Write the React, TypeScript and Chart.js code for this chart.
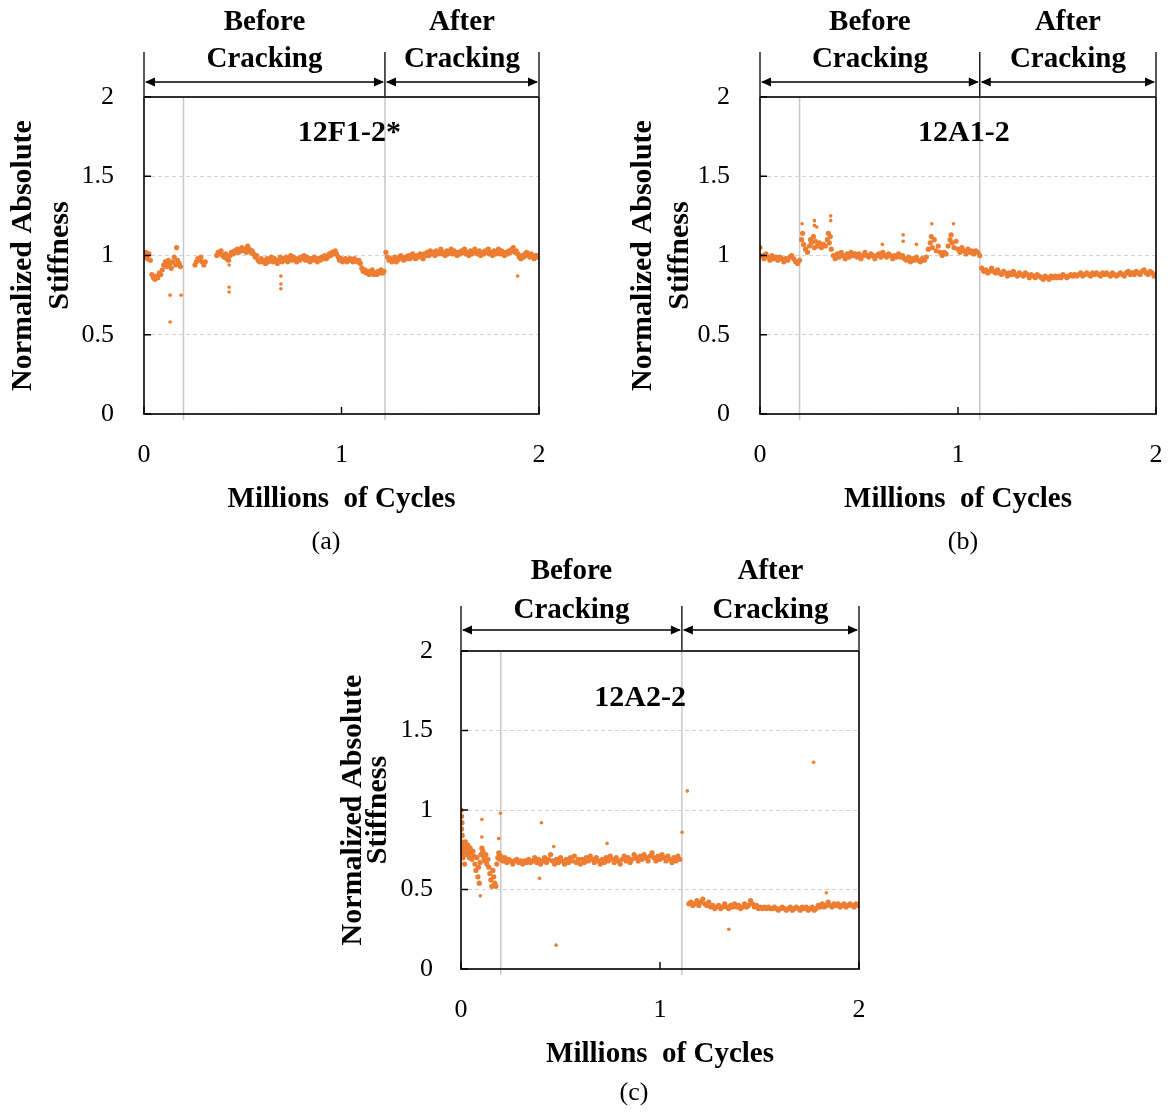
import React, { useEffect, useRef } from "react";
import { Chart, registerables } from "chart.js";

Chart.register(...registerables);

const SERIF = "'Liberation Serif', 'Times New Roman', serif";
const ORANGE = "#ED7D31";

type Pt = [number, number];

// ---------------- DATA ----------------
const panelTitles = ["12F1-2*", "12A1-2", "12A2-2"];
const panelLabels = ["(a)", "(b)", "(c)"];
const xTickValues = [0, 1, 2];
const yTickValues = [0, 0.5, 1, 1.5, 2];
const xAxisTitle = "Millions  of Cycles";
const yAxisTitle = ["Normalized Absolute", "Stiffness"];
const phaseLabels = [["Before", "Cracking"], ["After", "Cracking"]];
const referenceCycle = 0.2;
const crackCycles = [1.22, 1.11, 1.11];

// (a) 12F1-2*  [millions of cycles, normalized stiffness]
const panelA_band: Pt[] = [
  [0.000,0.99],[0.010,1.02],[0.018,0.98],[0.025,1.01],[0.032,0.97],[0.040,0.88],[0.048,0.86],[0.055,0.85],
  [0.063,0.87],[0.070,0.86],[0.078,0.89],[0.085,0.88],[0.093,0.91],[0.100,0.94],[0.108,0.96],[0.115,0.93],
  [0.123,0.97],[0.130,0.95],[0.138,0.92],[0.145,0.96],[0.153,0.99],[0.160,0.94],[0.165,1.05],[0.170,0.97],
  [0.178,0.95],[0.185,0.93],
  [0.258,0.94],[0.265,0.96],[0.273,0.98],[0.280,0.97],[0.288,0.99],[0.295,0.96],[0.303,0.94],[0.310,0.96],
  [0.368,1.00],[0.375,1.02],[0.383,1.01],[0.390,1.03],[0.398,1.00],[0.405,0.99],[0.413,1.01],[0.420,0.98],
  [0.428,0.97],[0.435,1.00],[0.443,1.02],[0.450,1.01],[0.458,1.03],[0.465,1.02],[0.473,1.04],[0.480,1.02],
  [0.488,1.03],[0.495,1.05],[0.503,1.03],[0.510,1.04],[0.518,1.02],[0.525,1.06],[0.533,1.04],[0.540,1.02],
  [0.548,1.03],[0.555,1.01],[0.563,0.99],[0.570,1.00],[0.578,0.97],[0.585,0.96],[0.593,0.98],[0.600,0.96],
  [0.608,0.97],[0.615,0.95],[0.623,0.98],[0.630,0.96],[0.638,0.97],[0.645,0.99],[0.653,0.96],[0.660,0.98],
  [0.668,0.97],[0.675,0.95],[0.683,0.97],[0.690,0.99],[0.698,0.96],[0.705,0.98],[0.713,0.97],[0.720,0.99],
  [0.728,0.96],[0.735,0.98],[0.743,1.00],[0.750,0.97],[0.758,0.99],[0.765,0.98],[0.773,0.96],[0.780,0.98],
  [0.788,0.97],[0.795,0.99],[0.803,0.98],[0.810,1.00],[0.818,0.97],[0.825,0.99],[0.833,0.98],[0.840,0.96],
  [0.848,0.98],[0.855,0.97],[0.863,0.99],[0.870,0.98],[0.878,0.96],[0.885,0.98],[0.893,0.97],[0.900,0.99],
  [0.908,0.98],[0.915,1.00],[0.923,0.98],[0.930,0.99],[0.938,1.01],[0.945,1.00],[0.953,1.02],[0.960,1.01],
  [0.968,1.03],[0.975,1.01],[0.983,0.99],[0.990,0.97],[0.998,0.98],[1.005,0.96],[1.013,0.97],[1.020,0.98],
  [1.028,0.96],[1.035,0.97],[1.043,0.98],[1.050,0.97],[1.058,0.96],[1.065,0.98],[1.073,0.97],[1.080,0.96],
  [1.088,0.97],[1.095,0.95],[1.103,0.92],[1.110,0.90],[1.118,0.91],[1.125,0.89],[1.133,0.90],[1.140,0.88],
  [1.148,0.89],[1.155,0.91],[1.163,0.88],[1.170,0.89],[1.178,0.88],[1.185,0.90],[1.193,0.89],[1.200,0.91],
  [1.208,0.89],[1.215,0.90],[1.225,1.02],[1.233,0.99],[1.240,0.97],[1.248,0.98],[1.255,0.96],[1.263,0.97],
  [1.270,0.99],[1.278,0.96],[1.285,0.97],[1.293,0.99],[1.300,1.00],[1.308,0.98],[1.315,0.97],[1.323,0.99],
  [1.330,0.98],[1.338,1.00],[1.345,0.98],[1.353,0.99],[1.360,1.01],[1.368,0.99],[1.375,0.98],[1.383,1.00],
  [1.390,0.99],[1.398,1.01],[1.405,1.00],[1.413,0.98],[1.420,1.01],[1.428,1.00],[1.435,1.02],[1.443,1.00],
  [1.450,1.03],[1.458,1.01],[1.465,1.02],[1.473,1.00],[1.480,1.03],[1.488,1.01],[1.495,1.02],[1.503,1.04],
  [1.510,1.01],[1.518,1.02],[1.525,1.00],[1.533,1.03],[1.540,1.01],[1.548,1.02],[1.555,1.04],[1.563,1.01],
  [1.570,1.03],[1.578,1.02],[1.585,1.00],[1.593,1.02],[1.600,1.01],[1.608,1.03],[1.615,1.02],[1.623,1.04],
  [1.630,1.01],[1.638,1.02],[1.645,1.00],[1.653,1.03],[1.660,1.01],[1.668,1.02],[1.675,1.04],[1.683,1.02],
  [1.690,1.01],[1.698,1.03],[1.705,1.00],[1.713,1.02],[1.720,1.01],[1.728,1.03],[1.735,1.02],[1.743,1.04],
  [1.750,1.01],[1.758,1.02],[1.765,1.00],[1.773,1.03],[1.780,1.01],[1.788,1.02],[1.795,1.04],[1.803,1.01],
  [1.810,1.03],[1.818,1.02],[1.825,1.00],[1.833,1.02],[1.840,1.01],[1.848,1.03],[1.855,1.02],[1.863,1.04],
  [1.870,1.05],[1.878,1.02],[1.885,1.03],[1.893,1.01],[1.900,0.99],[1.908,0.98],[1.915,1.00],[1.923,0.99],
  [1.930,1.01],[1.938,1.02],[1.945,1.00],[1.953,0.99],[1.960,1.01],[1.968,1.00],[1.975,0.98],[1.983,1.00],
  [1.990,0.99],[1.998,1.00],
];
const panelA_outliers: Pt[] = [
  [0.000,0.00],[0.132,0.75],[0.132,0.58],[0.188,0.75],[0.431,0.94],[0.431,0.80],[0.431,0.77],
  [0.693,0.87],[0.693,0.82],[0.693,0.79],[1.892,0.87],
];

// (b) 12A1-2
const panelB_band: Pt[] = [
  [0.000,1.05],[0.010,1.00],[0.020,0.98],[0.030,1.01],[0.040,0.99],[0.050,0.97],[0.060,1.00],[0.070,0.98],
  [0.080,0.99],[0.090,0.97],[0.100,0.99],[0.110,0.98],[0.120,0.96],[0.130,0.98],[0.140,0.97],[0.150,0.99],
  [0.160,1.00],[0.170,0.98],[0.180,0.96],[0.190,0.95],[0.200,0.97],[0.210,1.10],[0.215,1.14],[0.220,1.07],
  [0.230,1.04],[0.240,1.02],[0.250,1.06],[0.255,1.10],[0.260,1.08],[0.270,1.12],[0.275,1.05],[0.280,1.09],
  [0.290,1.06],[0.300,1.08],[0.310,1.05],[0.320,1.07],[0.330,1.06],[0.340,1.10],[0.345,1.14],[0.350,1.08],
  [0.355,1.12],[0.360,1.04],[0.370,1.00],[0.380,0.98],[0.390,1.01],[0.400,0.99],[0.410,1.02],[0.420,1.00],
  [0.430,0.98],[0.440,1.01],[0.450,0.99],[0.460,1.02],[0.470,1.00],[0.480,1.01],[0.490,0.99],[0.500,1.01],
  [0.510,0.98],[0.520,1.00],[0.530,1.02],[0.540,1.00],[0.550,0.99],[0.560,1.01],[0.570,1.00],[0.580,0.98],
  [0.590,1.00],[0.600,1.01],[0.610,0.99],[0.620,1.02],[0.630,1.00],[0.640,0.99],[0.650,1.01],[0.660,1.00],
  [0.670,0.98],[0.680,1.00],[0.690,0.99],[0.700,1.01],[0.710,0.99],[0.720,1.00],[0.730,0.98],[0.740,0.97],
  [0.750,0.99],[0.760,0.96],[0.770,0.98],[0.780,0.97],[0.790,0.99],[0.800,0.97],[0.810,0.96],[0.820,0.98],
  [0.830,0.97],[0.840,0.99],[0.850,1.04],[0.860,1.08],[0.865,1.12],[0.870,1.05],[0.880,1.10],[0.890,1.03],
  [0.900,1.06],[0.910,1.02],[0.920,1.00],[0.930,1.02],[0.940,1.01],[0.950,1.06],[0.960,1.10],[0.965,1.13],
  [0.970,1.08],[0.980,1.05],[0.990,1.09],[1.000,1.04],[1.010,1.02],[1.020,1.05],[1.030,1.03],[1.040,1.01],
  [1.050,1.04],[1.060,1.02],[1.070,1.03],[1.080,1.01],[1.090,1.03],[1.100,1.02],[1.110,1.00],[1.120,0.92],
  [1.130,0.90],[1.140,0.91],[1.150,0.89],[1.160,0.90],[1.170,0.92],[1.180,0.90],[1.190,0.89],[1.200,0.91],
  [1.210,0.89],[1.220,0.88],[1.230,0.90],[1.240,0.89],[1.250,0.87],[1.260,0.89],[1.270,0.88],[1.280,0.90],
  [1.290,0.88],[1.300,0.87],[1.310,0.89],[1.320,0.88],[1.330,0.87],[1.340,0.89],[1.350,0.88],[1.360,0.86],
  [1.370,0.88],[1.380,0.87],[1.390,0.86],[1.400,0.88],[1.410,0.87],[1.420,0.86],[1.430,0.85],[1.440,0.87],
  [1.450,0.86],[1.460,0.85],[1.470,0.87],[1.480,0.86],[1.490,0.87],[1.500,0.86],[1.510,0.87],[1.520,0.86],
  [1.530,0.88],[1.540,0.87],[1.550,0.86],[1.560,0.87],[1.570,0.88],[1.580,0.87],[1.590,0.88],[1.600,0.87],
  [1.610,0.88],[1.620,0.89],[1.630,0.87],[1.640,0.88],[1.650,0.89],[1.660,0.88],[1.670,0.87],[1.680,0.89],
  [1.690,0.88],[1.700,0.89],[1.710,0.88],[1.720,0.87],[1.730,0.89],[1.740,0.88],[1.750,0.89],[1.760,0.88],
  [1.770,0.87],[1.780,0.89],[1.790,0.88],[1.800,0.87],[1.810,0.88],[1.820,0.89],[1.830,0.88],[1.840,0.87],
  [1.850,0.89],[1.860,0.90],[1.870,0.88],[1.880,0.89],[1.890,0.88],[1.900,0.90],[1.910,0.89],[1.920,0.88],
  [1.930,0.90],[1.940,0.91],[1.950,0.89],[1.960,0.88],[1.970,0.90],[1.980,0.89],[1.990,0.87],[2.000,0.88],
];
const panelB_outliers: Pt[] = [
  [0.213,1.20],[0.275,1.22],[0.275,1.19],[0.287,1.18],[0.357,1.25],[0.357,1.22],[0.618,1.07],
  [0.723,1.13],[0.723,1.09],[0.790,1.07],[0.868,1.20],[0.977,1.20],
];

// (c) 12A2-2
const panelC_band: Pt[] = [
  [0.000,1.00],[0.003,0.96],[0.005,0.92],[0.003,0.88],[0.006,0.84],[0.004,0.80],[0.008,0.76],[0.006,0.72],
  [0.010,0.70],[0.012,0.78],[0.015,0.74],[0.018,0.66],[0.022,0.80],[0.026,0.76],[0.030,0.72],[0.034,0.78],
  [0.038,0.74],[0.042,0.70],[0.046,0.76],[0.050,0.73],[0.055,0.69],[0.060,0.74],[0.065,0.71],[0.070,0.66],
  [0.075,0.62],[0.080,0.70],[0.085,0.58],[0.088,0.64],[0.092,0.54],[0.096,0.67],[0.100,0.72],[0.105,0.76],
  [0.110,0.74],[0.115,0.70],[0.120,0.68],[0.125,0.72],[0.130,0.66],[0.135,0.69],[0.140,0.64],[0.145,0.60],
  [0.150,0.56],[0.155,0.52],[0.160,0.62],[0.165,0.58],[0.170,0.54],[0.175,0.52],[0.180,0.66],[0.185,0.70],
  [0.190,0.73],[0.195,0.69],[0.200,0.71],
  [0.210,0.68],[0.220,0.70],[0.230,0.67],[0.240,0.69],[0.250,0.68],[0.260,0.66],[0.270,0.68],[0.280,0.69],
  [0.290,0.67],[0.300,0.68],[0.310,0.66],[0.320,0.68],[0.330,0.67],[0.340,0.69],[0.350,0.67],[0.360,0.68],
  [0.370,0.70],[0.380,0.67],[0.390,0.69],[0.400,0.66],[0.410,0.68],[0.420,0.70],[0.430,0.67],[0.440,0.69],
  [0.450,0.72],[0.460,0.68],[0.470,0.66],[0.480,0.69],[0.490,0.67],[0.500,0.70],[0.510,0.68],[0.520,0.66],
  [0.530,0.69],[0.540,0.67],[0.550,0.70],[0.560,0.68],[0.570,0.71],[0.580,0.67],[0.590,0.69],[0.600,0.66],
  [0.610,0.69],[0.620,0.67],[0.630,0.70],[0.640,0.68],[0.650,0.71],[0.660,0.69],[0.670,0.67],[0.680,0.70],
  [0.690,0.68],[0.700,0.66],[0.710,0.69],[0.720,0.67],[0.730,0.70],[0.740,0.68],[0.750,0.71],[0.760,0.69],
  [0.770,0.67],[0.780,0.70],[0.790,0.68],[0.800,0.66],[0.810,0.69],[0.820,0.71],[0.830,0.68],[0.840,0.70],
  [0.850,0.67],[0.860,0.69],[0.870,0.72],[0.880,0.70],[0.890,0.68],[0.900,0.71],[0.910,0.69],[0.920,0.72],
  [0.930,0.70],[0.940,0.68],[0.950,0.71],[0.960,0.73],[0.970,0.70],[0.980,0.68],[0.990,0.71],[1.000,0.69],
  [1.010,0.72],[1.020,0.70],[1.030,0.68],[1.040,0.71],[1.050,0.69],[1.060,0.67],[1.070,0.70],[1.080,0.68],
  [1.090,0.71],[1.100,0.69],
  [1.145,0.41],[1.155,0.42],[1.165,0.40],[1.175,0.41],[1.185,0.43],[1.195,0.40],[1.205,0.42],[1.215,0.44],
  [1.225,0.41],[1.235,0.40],[1.245,0.42],[1.255,0.39],[1.265,0.40],[1.275,0.38],[1.285,0.39],[1.295,0.40],
  [1.305,0.38],[1.315,0.39],[1.325,0.41],[1.335,0.39],[1.345,0.38],[1.355,0.40],[1.365,0.39],[1.375,0.41],
  [1.385,0.39],[1.395,0.40],[1.405,0.38],[1.415,0.39],[1.425,0.41],[1.435,0.39],[1.445,0.40],[1.455,0.43],
  [1.465,0.41],[1.475,0.39],[1.485,0.40],[1.495,0.38],[1.505,0.39],[1.515,0.38],[1.525,0.39],[1.535,0.38],
  [1.545,0.39],[1.555,0.38],[1.565,0.38],[1.575,0.39],[1.585,0.38],[1.595,0.37],[1.605,0.38],[1.615,0.39],
  [1.625,0.38],[1.635,0.37],[1.645,0.38],[1.655,0.39],[1.665,0.37],[1.675,0.38],[1.685,0.39],[1.695,0.38],
  [1.705,0.37],[1.715,0.39],[1.725,0.38],[1.735,0.39],[1.745,0.37],[1.755,0.38],[1.765,0.39],[1.775,0.37],
  [1.785,0.38],[1.795,0.40],[1.805,0.39],[1.815,0.41],[1.825,0.39],[1.835,0.40],[1.845,0.42],[1.855,0.40],
  [1.865,0.39],[1.875,0.41],[1.885,0.40],[1.895,0.41],[1.905,0.39],[1.915,0.40],[1.925,0.41],[1.935,0.39],
  [1.945,0.40],[1.955,0.41],[1.965,0.40],[1.975,0.39],[1.985,0.41],[1.995,0.40],
];
const panelC_outliers: Pt[] = [
  [0.097,0.46],[0.105,0.94],[0.105,0.83],[0.189,0.82],[0.198,0.98],[0.395,0.57],[0.404,0.92],
  [0.466,0.77],[0.478,0.15],[0.734,0.79],[1.111,0.86],[1.137,1.12],[1.346,0.25],[1.772,1.30],[1.836,0.48],
];

// ---------------- LAYOUT ----------------
type PanelCfg = {
  band: Pt[];
  outliers: Pt[];
  title: string;
  label: string;
  crack: number;
  canvas: { x: number; y: number; w: number; h: number };
  area: { l: number; t: number; r: number; b: number };
  yTitleCenter: number;
  yTitleGap: number;
  yTickGap: number;
  titleAt: { x: number; y: number };
  labelAt: { x: number; y: number };
  ann: { top: number; mid: number; arrow: number };
};

const X_AXIS_H = 110;

const PANELS: PanelCfg[] = [
  {
    band: panelA_band, outliers: panelA_outliers, title: panelTitles[0], label: panelLabels[0], crack: crackCycles[0],
    canvas: { x: 0, y: 0, w: 584, h: 556 }, area: { l: 144, t: 97, r: 539, b: 414 },
    yTitleCenter: 23, yTitleGap: 37, yTickGap: 30,
    titleAt: { x: 1.04, y: 1.77 }, labelAt: { x: 326, y: 542 },
    ann: { top: 74, mid: 37, arrow: 15 },
  },
  {
    band: panelB_band, outliers: panelB_outliers, title: panelTitles[1], label: panelLabels[1], crack: crackCycles[1],
    canvas: { x: 584, y: 0, w: 584, h: 556 }, area: { l: 760, t: 97, r: 1156, b: 414 },
    yTitleCenter: 643, yTitleGap: 37, yTickGap: 30,
    titleAt: { x: 1.03, y: 1.77 }, labelAt: { x: 963, y: 542 },
    ann: { top: 74, mid: 37, arrow: 15 },
  },
  {
    band: panelC_band, outliers: panelC_outliers, title: panelTitles[2], label: panelLabels[2], crack: crackCycles[2],
    canvas: { x: 292, y: 556, w: 584, h: 556 }, area: { l: 461, t: 651, r: 859, b: 969 },
    yTitleCenter: 353, yTitleGap: 25, yTickGap: 28,
    titleAt: { x: 0.9, y: 1.7 }, labelAt: { x: 634, y: 1093 },
    ann: { top: 79, mid: 40, arrow: 21 },
  },
];

function overlayPlugin(cfg: PanelCfg) {
  return {
    id: "overlay",
    beforeDatasetsDraw(chart: any) {
      const { ctx, chartArea: a, scales } = chart;
      const xs = scales.x;
      ctx.save();
      ctx.strokeStyle = "#c8c8c8";
      ctx.lineWidth = 1.5;
      for (const v of [referenceCycle, cfg.crack]) {
        const px = xs.getPixelForValue(v);
        ctx.beginPath();
        ctx.moveTo(px, a.top);
        ctx.lineTo(px, a.bottom + 6);
        ctx.stroke();
      }
      ctx.restore();
    },
    afterDraw(chart: any) {
      const { ctx, chartArea: a, scales } = chart;
      const xs = scales.x;
      const ys = scales.y;
      ctx.save();
      // frame
      ctx.strokeStyle = "#000";
      ctx.lineWidth = 1.6;
      ctx.strokeRect(a.left, a.top, a.right - a.left, a.bottom - a.top);
      // inner ticks
      ctx.lineWidth = 1.4;
      ctx.beginPath();
      for (const v of yTickValues) {
        const py = ys.getPixelForValue(v);
        ctx.moveTo(a.left, py);
        ctx.lineTo(a.left + 7, py);
      }
      for (const v of xTickValues) {
        const px = xs.getPixelForValue(v);
        ctx.moveTo(px, a.bottom);
        ctx.lineTo(px, a.bottom - 7);
      }
      ctx.stroke();

      // phase annotations
      const x0 = xs.getPixelForValue(0);
      const xc = xs.getPixelForValue(cfg.crack);
      const x2 = xs.getPixelForValue(2);
      ctx.lineWidth = 1.3;
      ctx.beginPath();
      for (const px of [x0, xc, x2]) {
        ctx.moveTo(px, a.top - 45);
        ctx.lineTo(px, a.top - 1);
      }
      ctx.stroke();
      const ay = a.top - cfg.ann.arrow;
      const seg = (p1: number, p2: number) => {
        ctx.beginPath();
        ctx.moveTo(p1 + 2, ay);
        ctx.lineTo(p2 - 2, ay);
        ctx.stroke();
        ctx.beginPath();
        ctx.moveTo(p1 + 1, ay);
        ctx.lineTo(p1 + 11, ay - 4.5);
        ctx.lineTo(p1 + 11, ay + 4.5);
        ctx.closePath();
        ctx.moveTo(p2 - 1, ay);
        ctx.lineTo(p2 - 11, ay - 4.5);
        ctx.lineTo(p2 - 11, ay + 4.5);
        ctx.closePath();
        ctx.fill();
      };
      ctx.fillStyle = "#000";
      ctx.lineWidth = 1.5;
      seg(x0, xc);
      seg(xc, x2);

      ctx.font = `bold 29px ${SERIF}`;
      ctx.textAlign = "center";
      ctx.textBaseline = "middle";
      const centers = [(x0 + xc) / 2, (xc + x2) / 2];
      phaseLabels.forEach((lines, i) => {
        ctx.fillText(lines[0], centers[i], a.top - cfg.ann.top);
        ctx.fillText(lines[1], centers[i], a.top - cfg.ann.mid);
      });

      // panel title
      ctx.font = `bold 30px ${SERIF}`;
      ctx.fillText(cfg.title, xs.getPixelForValue(cfg.titleAt.x), ys.getPixelForValue(cfg.titleAt.y));

      // sub-figure label
      ctx.font = `26px ${SERIF}`;
      ctx.fillText(cfg.label, cfg.labelAt.x - cfg.canvas.x, cfg.labelAt.y - cfg.canvas.y);
      ctx.restore();
    },
  };
}

function buildConfig(cfg: PanelCfg): any {
  const yAxisWidth = cfg.area.l - cfg.canvas.x;
  const padTop = cfg.area.t - cfg.canvas.y;
  const padRight = cfg.canvas.x + cfg.canvas.w - cfg.area.r;
  const padBottom = cfg.canvas.y + cfg.canvas.h - cfg.area.b - X_AXIS_H;
  const yTitlePad = cfg.yTitleCenter - cfg.canvas.x - cfg.yTitleGap / 2;
  return {
    type: "scatter",
    data: {
      datasets: [
        {
          data: cfg.band.map(([x, y]) => ({ x, y })),
          backgroundColor: ORANGE,
          borderWidth: 0,
          pointRadius: 2.6,
          pointStyle: "circle",
        },
        {
          data: cfg.outliers.map(([x, y]) => ({ x, y })),
          backgroundColor: ORANGE,
          borderWidth: 0,
          pointRadius: 1.8,
          pointStyle: "circle",
        },
      ],
    },
    options: {
      responsive: false,
      animation: false,
      devicePixelRatio: 1,
      layout: { padding: { left: 0, top: padTop, right: padRight, bottom: padBottom } },
      plugins: { legend: { display: false }, tooltip: { enabled: false } },
      scales: {
        x: {
          type: "linear",
          min: 0,
          max: 2,
          afterBuildTicks: (s: any) => {
            s.ticks = xTickValues.map((v) => ({ value: v }));
          },
          afterFit: (s: any) => {
            s.height = X_AXIS_H;
            s.paddingLeft = 0;
            s.paddingRight = 0;
          },
          grid: { display: false, drawTicks: false },
          border: { display: false },
          ticks: {
            color: "#000",
            font: { family: SERIF, size: 26 },
            padding: 26,
            maxRotation: 0,
            autoSkip: false,
            callback: (v: number) => String(v),
          },
          title: {
            display: true,
            text: xAxisTitle,
            color: "#000",
            font: { family: SERIF, size: 29, weight: "bold" },
            padding: { top: 0, bottom: 7 },
          },
        },
        y: {
          type: "linear",
          min: 0,
          max: 2,
          afterBuildTicks: (s: any) => {
            s.ticks = yTickValues.map((v) => ({ value: v }));
          },
          afterFit: (s: any) => {
            s.width = yAxisWidth;
          },
          grid: { color: "#d4d4d4", lineWidth: 1, drawTicks: false },
          border: { display: false, dash: [4, 3] },
          ticks: {
            color: "#000",
            font: { family: SERIF, size: 26 },
            padding: cfg.yTickGap,
            autoSkip: false,
            callback: (v: number) => String(v),
          },
          title: {
            display: true,
            text: yAxisTitle,
            color: "#000",
            font: { family: SERIF, size: 30, weight: "bold", lineHeight: `${cfg.yTitleGap}px` },
            padding: { top: yTitlePad, bottom: 0 },
          },
        },
      },
    },
    plugins: [overlayPlugin(cfg)],
  };
}

function Panel({ cfg }: { cfg: PanelCfg }) {
  const ref = useRef<HTMLCanvasElement | null>(null);
  useEffect(() => {
    const canvas = ref.current;
    if (!canvas) return;
    const chart = new Chart(canvas, buildConfig(cfg));
    return () => chart.destroy();
  }, [cfg]);
  return (
    <canvas
      ref={ref}
      width={cfg.canvas.w}
      height={cfg.canvas.h}
      style={{
        position: "absolute",
        left: cfg.canvas.x,
        top: cfg.canvas.y,
        width: cfg.canvas.w,
        height: cfg.canvas.h,
      }}
    />
  );
}

export default function App() {
  return (
    <div
      style={{
        position: "absolute",
        left: 0,
        top: 0,
        width: 1168,
        height: 1112,
        background: "#fff",
        overflow: "hidden",
      }}
    >
      {PANELS.map((p, i) => (
        <Panel key={i} cfg={p} />
      ))}
    </div>
  );
}
